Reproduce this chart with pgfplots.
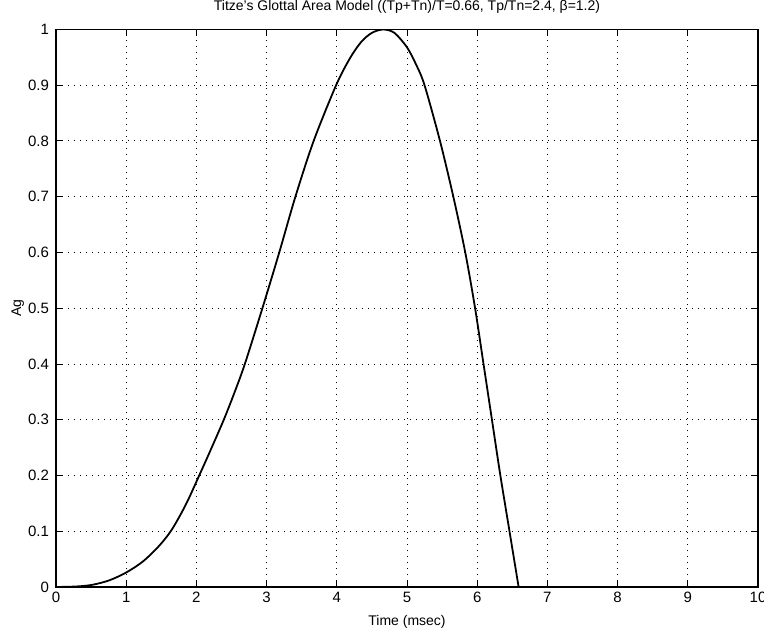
\documentclass[border=0pt]{standalone}
\usepackage{fontspec}
\setmainfont{Liberation Sans}
\usepackage{pgfplots}
\pgfplotsset{compat=1.18}
\begin{document}
\begin{tikzpicture}
\useasboundingbox (-28pt,-22.5pt) rectangle (354pt,293.5pt);
\begin{axis}[
  at={(0,0)}, anchor=origin,
  scale only axis,
  width=351pt, height=278.75pt,
  xmin=0, xmax=10, ymin=0, ymax=1,
  xtick={0,1,...,10},
  ytick={0,0.1,...,1},
  yticklabels={0,0.1,0.2,0.3,0.4,0.5,0.6,0.7,0.8,0.9,1},
  xticklabels={0,1,2,3,4,5,6,7,8,9,10},
  tick align=inside,
  major tick length=3.5pt,
  tick style={black, line width=0.5pt},
  grid=major,
  major grid style={black, line width=0.5pt, dash pattern=on 0.6pt off 2.4pt},
  axis line style={black, line width=0.6pt},
  tick label style={font=\fontsize{7.5}{9}\selectfont},
  /pgf/number format/assume math mode=true,
  xticklabel style={yshift=1pt},
  title={Titze's Glottal Area Model ((Tp+Tn)/T=0.66, Tp/Tn=2.4, β=1.2)},
  title style={font=\fontsize{7}{8.4}\selectfont, at={(0.5,1)}, anchor=south, yshift=-1.5pt},
  xlabel={Time (msec)},
  ylabel={Ag},
  label style={font=\fontsize{7}{8.4}\selectfont},
  xlabel style={at={(0.5,0)}, anchor=north, yshift=-10.5pt},
  ylabel style={at={(0,0.5)}, anchor=south, yshift=12.5pt},
]
\addplot[black, line width=0.9pt, smooth] coordinates {
(0,0) (0.3,0.001) (0.52,0.004) (0.76,0.012) (1.0,0.026) (1.24,0.046)
(1.47,0.074) (1.65,0.103) (1.85,0.148) (2.04,0.2) (2.2,0.245) (2.39,0.3)
(2.54,0.348) (2.69,0.4) (2.94,0.5) (3.18,0.6) (3.41,0.7) (3.67,0.8)
(3.99,0.9) (4.19,0.949) (4.35,0.978) (4.5,0.994) (4.66,1.0) (4.82,0.994)
(5.0,0.968) (5.13,0.937) (5.25,0.9) (5.47,0.8) (5.66,0.7) (5.83,0.6) (5.97,0.5)
(6.09,0.4) (6.21,0.3) (6.33,0.2) (6.46,0.1) (6.59,0)
};
\addplot[black, line width=0.9pt] coordinates {(6.59,0) (10,0)};
\end{axis}
\end{tikzpicture}
\end{document}
